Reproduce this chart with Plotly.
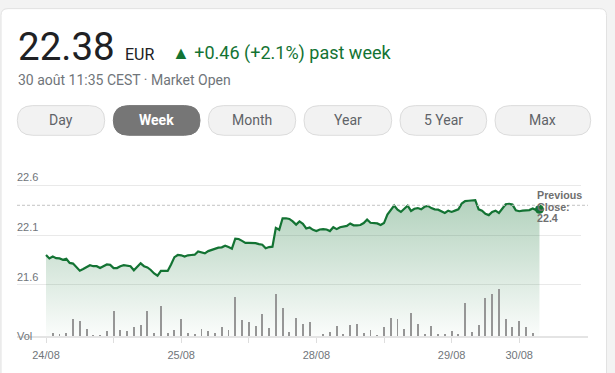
import plotly.graph_objects as go

# ---------------- data ----------------
# price samples (two per volume bar)
price = [
    21.899, 21.864, 21.883, 21.867, 21.864, 21.851, 21.861, 21.819, 21.812, 21.777,
    21.741, 21.758, 21.777, 21.796, 21.786, 21.786, 21.767, 21.783, 21.803, 21.799,
    21.767, 21.767, 21.786, 21.796, 21.790, 21.786, 21.745, 21.777, 21.815, 21.786,
    21.774, 21.748, 21.713, 21.690, 21.738, 21.738, 21.738, 21.803,
    21.877, 21.899, 21.896, 21.883, 21.896, 21.899, 21.902, 21.934, 21.928, 21.915,
    21.938, 21.950, 21.963, 21.973, 21.976, 21.992, 21.979, 21.963, 22.063, 22.060,
    22.041, 22.021, 22.021, 22.021, 22.018, 22.008, 22.002, 21.967, 21.979, 21.983,
    22.172, 22.153, 22.269, 22.269,
    22.262, 22.237, 22.205, 22.237, 22.214, 22.166, 22.176, 22.153, 22.140, 22.156,
    22.160, 22.156, 22.140, 22.179, 22.160, 22.179, 22.182, 22.192, 22.217, 22.198,
    22.198, 22.201, 22.221, 22.256, 22.224, 22.224, 22.217, 22.201, 22.221, 22.307,
    22.352, 22.397, 22.356, 22.333, 22.365, 22.397, 22.343,
    22.365, 22.372, 22.359, 22.385, 22.394, 22.372, 22.359, 22.356, 22.336, 22.323,
    22.346, 22.333, 22.346, 22.359, 22.417, 22.442, 22.446, 22.449, 22.452, 22.359,
    22.346, 22.314, 22.301, 22.333, 22.346, 22.323, 22.372, 22.410, 22.414, 22.407,
    22.349, 22.340, 22.346, 22.352, 22.352, 22.368, 22.352, 22.359,
]
price_x = [i / 2 for i in range(len(price))]

volume = [
    1200, 900, 1200, 5600, 5100, 2400, 700, 500, 1800, 8000, 2300, 1800, 3200, 3700, 8200, 1100, 9800, 1400,
    2200, 5600, 1400, 900, 2600, 1800, 1200, 3000, 2100, 12400, 5300, 4800, 3600, 7200, 2700, 13500, 9000, 1700,
    5900, 4200, 4600, 400, 900, 1600, 3300, 900, 3700, 4100, 1400, 2100, 700, 3000, 5900, 5500, 2500, 7600, 4200,
    900, 3300, 800, 900, 1800, 900, 10800, 1500, 3800, 12200, 13600, 14900, 5600, 3100, 5000, 3000, 1200, 400,
]
volume_x = list(range(1, len(volume) + 1))

x_tick_vals = [0, 10, 20, 30, 40, 50, 60, 70]
x_tick_text = ["24/08", "", "25/08", "", "28/08", "", "29/08", "30/08"]
y_tick_vals = [21.6, 22.1, 22.6]
prev_close = 22.4

last_price = "22.38"
currency = "EUR"
change_text = "▲ +0.46 (+2.1%) past week"
subtitle = "30 août 11:35 CEST · Market Open"
buttons = ["Day", "Week", "Month", "Year", "5 Year", "Max"]
active_button = "Week"

# ---------------- layout helpers ----------------
FW, FH = 615, 373
ML, MR, MT, MB = 17, 34, 180, 29
PW, PH = FW - ML - MR, FH - MT - MB


def px(x):
    return (x - ML) / PW


def py(y):
    return (FH - MB - y) / PH


def rounded(x0, y0, x1, y1, r):
    p = [
        f"M {px(x0 + r)} {py(y0)}",
        f"L {px(x1 - r)} {py(y0)}",
        f"Q {px(x1)} {py(y0)} {px(x1)} {py(y0 + r)}",
        f"L {px(x1)} {py(y1 - r)}",
        f"Q {px(x1)} {py(y1)} {px(x1 - r)} {py(y1)}",
        f"L {px(x0 + r)} {py(y1)}",
        f"Q {px(x0)} {py(y1)} {px(x0)} {py(y1 - r)}",
        f"L {px(x0)} {py(y0 + r)}",
        f"Q {px(x0)} {py(y0)} {px(x0 + r)} {py(y0)}",
        "Z",
    ]
    return " ".join(p)


GREEN = "#137333"
GREY_TXT = "#70757a"
ROBOTO = "Roboto, Arial, sans-serif"
ARIAL = "Arial, Liberation Sans, sans-serif"

fig = go.Figure()

fig.add_trace(go.Scatter(
    x=price_x, y=price, mode="lines",
    line=dict(color=GREEN, width=2.2),
    fill="tozeroy",
    fillgradient=dict(
        type="vertical",
        colorscale=[[0, "rgba(19,115,51,0.0)"], [1, "rgba(19,115,51,0.32)"]],
        start=21.07, stop=22.45,
    ),
    hoverinfo="skip", showlegend=False,
))

fig.add_trace(go.Bar(
    x=volume_x, y=volume, yaxis="y2", width=0.28,
    marker=dict(color="#969696", line=dict(width=0)),
    hoverinfo="skip", showlegend=False,
))

fig.add_trace(go.Scatter(
    x=[price_x[-1]], y=[price[-1]], mode="markers",
    marker=dict(color=GREEN, size=9),
    hoverinfo="skip", showlegend=False,
))

shapes = []
# page background strip + card
shapes.append(dict(type="rect", xref="paper", yref="paper",
                   x0=px(-5), x1=px(FW + 5), y0=py(FH + 5), y1=py(-5),
                   fillcolor="#f3f3f3", line=dict(width=0), layer="below"))
shapes.append(dict(type="path", xref="paper", yref="paper",
                   path=rounded(1, 1, 606.5, FH + 20, 7),
                   fillcolor="white", line=dict(color="#e2e2e2", width=1), layer="below"))

# buttons
btn_x = [(17.3, 104.7), (113.3, 200.0), (208.3, 295.7), (304.0, 391.7), (400.0, 486.7), (495.0, 590.7)]
annotations = []
for name, (b0, b1) in zip(buttons, btn_x):
    active = name == active_button
    shapes.append(dict(type="path", xref="paper", yref="paper",
                       path=rounded(b0, 102.3, b1, 133.3, 15.5),
                       fillcolor="#767676" if active else "#f2f2f2",
                       line=dict(color="#767676" if active else "#dcdcdc", width=1),
                       layer="below"))
    annotations.append(dict(
        text=f"<b>{name}</b>" if active else name,
        x=px((b0 + b1) / 2), y=py(117.0), xref="paper", yref="paper",
        xanchor="center", yanchor="middle", showarrow=False,
        font=dict(family=ROBOTO, size=14, color="white" if active else "#5f6368"),
    ))

# previous close dashed line
shapes.append(dict(type="line", xref="paper", yref="y",
                   x0=0, x1=px(588), y0=prev_close, y1=prev_close,
                   line=dict(color="#c4c4c4", width=1, dash="3px,2px"), layer="above"))
# bottom axis line
shapes.append(dict(type="line", xref="paper", yref="paper",
                   x0=0, x1=px(588), y0=py(344), y1=py(344),
                   line=dict(color="#e4e4e4", width=2), layer="above"))


def ann(text, x, y, size, color, family=ROBOTO, xanchor="left", pad=1):
    annotations.append(dict(
        text=text, x=px(x), y=py(y), xref="paper", yref="paper",
        xanchor=xanchor, yanchor="middle", showarrow=False,
        borderpad=pad, borderwidth=0 if pad == 0 else 1,
        font=dict(family=family, size=size, color=color),
    ))


ann(last_price, 15.5, 40.8, 38.5, "#202124")
ann(currency, 122.5, 48.5, 16, "#202124")
ann(change_text, 169.5, 47.8, 18, GREEN)
ann(subtitle, 15.5, 75.2, 14, GREY_TXT)
ann("Vol", 15, 342.5, 11, GREY_TXT, ARIAL)

for v in y_tick_vals:
    annotations.append(dict(
        text=f"{v}", x=px(15), y=v, xref="paper", yref="y",
        xanchor="left", yanchor="middle", yshift=8.0, showarrow=False,
        font=dict(family=ARIAL, size=11, color=GREY_TXT),
    ))

for txt, yy in zip(["Previous", "Close:", f"{prev_close}"], [195.6, 207.7, 219.8]):
    ann(f"<b>{txt}</b>", 537.0, yy, 10.7, "#6f6f6f", ARIAL, pad=0)

fig.update_layout(
    width=FW, height=FH,
    margin=dict(l=ML, r=MR, t=MT, b=MB, pad=0),
    paper_bgcolor="#f3f3f3", plot_bgcolor="rgba(0,0,0,0)",
    showlegend=False,
    xaxis=dict(
        range=[(17 - 46) / 6.76, (581 - 46) / 6.76],
        tickvals=x_tick_vals, ticktext=x_tick_text,
        ticks="outside", ticklen=5, tickcolor="#dedede", tickwidth=1,
        ticklabelstandoff=3,
        tickfont=dict(family=ARIAL, size=11, color=GREY_TXT),
        showgrid=False, zeroline=False, showline=False, fixedrange=True,
    ),
    yaxis=dict(
        range=[21.072, 22.655], tickvals=y_tick_vals, showticklabels=False,
        showgrid=True, gridcolor="#e9e9e9", gridwidth=1,
        zeroline=False, showline=False, ticks="", fixedrange=True,
    ),
    yaxis2=dict(
        overlaying="y", range=[0, max(volume) * 3.3], visible=False,
        showgrid=False, zeroline=False, fixedrange=True,
    ),
    bargap=0,
    shapes=shapes,
    annotations=annotations,
)

fig.write_html(
    "out.html",
    config={"displayModeBar": False, "staticPlot": True},
    post_script="document.body.style.margin='0';document.body.style.overflow='hidden';",
)
